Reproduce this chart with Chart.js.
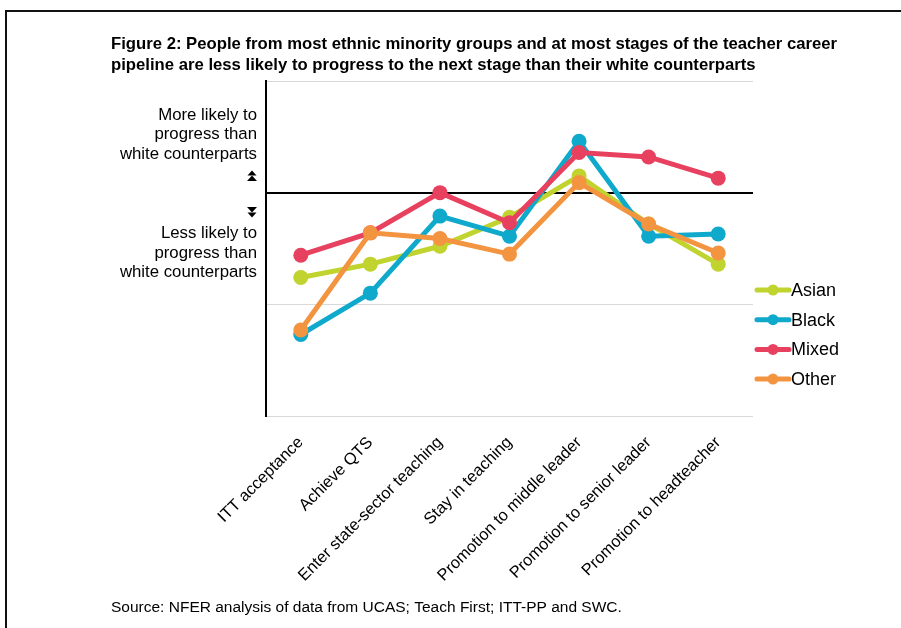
<!DOCTYPE html>
<html>
<head>
<meta charset="utf-8">
<script src="https://cdn.jsdelivr.net/npm/chart.js@4.4.1/dist/chart.umd.min.js"></script>
<style>
html,body{margin:0;padding:0;background:#fff;}
#wrap{position:relative;width:901px;height:628px;}
canvas{display:block;}
</style>
</head>
<body>
<div id="wrap"><canvas id="c" width="901" height="628"></canvas></div>
<script>
const categories = ["ITT acceptance","Achieve QTS","Enter state-sector teaching","Stay in teaching","Promotion to middle leader","Promotion to senior leader","Promotion to headteacher"];
const asian = [-0.76, -0.64, -0.48, -0.22, 0.15, -0.28, -0.64];
const black = [-1.27, -0.90, -0.21, -0.39, 0.46, -0.39, -0.37];
const mixed = [-0.56, -0.36, 0.00, -0.27, 0.36, 0.32, 0.13];
const other = [-1.23, -0.36, -0.41, -0.55, 0.09, -0.28, -0.54];
const seriesNames = ["Asian","Black","Mixed","Other"];
const seriesColors = ["#C0D32F","#0FA9CC","#E8405F","#F39440"];
const titleLines = ["Figure 2: People from most ethnic minority groups and at most stages of the teacher career",
                    "pipeline are less likely to progress to the next stage than their white counterparts"];
const moreLines = ["More likely to","progress than","white counterparts"];
const lessLines = ["Less likely to","progress than","white counterparts"];
const sourceText = "Source: NFER analysis of data from UCAS; Teach First; ITT-PP and SWC.";

const FONT = '"Liberation Sans", Arial, sans-serif';

const decor = {
  id: 'decor',
  beforeDraw(chart) {
    const ctx = chart.ctx;
    ctx.save();
    ctx.fillStyle = '#fff';
    ctx.fillRect(0,0,chart.width,chart.height);
    // frame
    ctx.fillStyle = '#111';
    ctx.fillRect(5, 10, 896, 2);
    ctx.fillRect(5, 10, 2, 618);
    ctx.restore();
  },
  afterDraw(chart) {
    const ctx = chart.ctx;
    const a = chart.chartArea;
    ctx.save();
    ctx.fillStyle = '#000';
    ctx.textBaseline = 'middle';
    // title
    ctx.font = 'bold 16.7px ' + FONT;
    ctx.textAlign = 'left';
    ctx.fillText(titleLines[0], 111, 44);
    ctx.fillText(titleLines[1], 111, 65);
    // source
    ctx.font = '15.5px ' + FONT;
    ctx.fillText(sourceText, 111, 608);
    // y annotations
    ctx.font = '16.8px ' + FONT;
    ctx.textAlign = 'right';
    const rx = a.left - 9;
    [115,134,154].forEach((y,i)=>ctx.fillText(moreLines[i], rx, y));
    [233,253,272].forEach((y,i)=>ctx.fillText(lessLines[i], rx, y));
    // arrows
    const ax = a.left - 14;
    function tri(yApex, yBase, hw) {
      ctx.beginPath();
      ctx.moveTo(ax, yApex); ctx.lineTo(ax+hw, yBase); ctx.lineTo(ax-hw, yBase);
      ctx.closePath(); ctx.fill();
    }
    tri(170.5, 175.5, 4.5); tri(175.5, 181, 5);
    tri(217.5, 212.5, 4.5); tri(212.5, 207, 5);
    // legend
    ctx.textAlign = 'left';
    ctx.font = '18px ' + FONT;
    chart.data.datasets.forEach((ds, i) => {
      const y = 290 + i * 29.7;
      const x0 = a.right + 4, x1 = a.right + 36;
      ctx.strokeStyle = ds.borderColor;
      ctx.lineWidth = 5;
      ctx.lineCap = 'round';
      ctx.beginPath(); ctx.moveTo(x0, y); ctx.lineTo(x1, y); ctx.stroke();
      ctx.fillStyle = ds.borderColor;
      ctx.beginPath(); ctx.arc((x0+x1)/2, y, 5.5, 0, Math.PI*2); ctx.fill();
      ctx.fillStyle = '#000';
      ctx.fillText(ds.label, x1 + 2, y + 1);
    });
    ctx.restore();
  }
};

const seriesData = [asian, black, mixed, other];
const datasets = seriesNames.map((n, i) => ({
  label: n,
  data: seriesData[i],
  borderColor: seriesColors[i],
  backgroundColor: seriesColors[i],
  pointBackgroundColor: seriesColors[i],
  pointBorderWidth: 0,
  pointRadius: 7.5,
  borderWidth: 5,
  tension: 0,
  order: 4 - i
}));

new Chart(document.getElementById('c'), {
  type: 'line',
  data: { labels: categories, datasets },
  options: {
    responsive: false,
    animation: false,
    events: [],
    layout: { padding: { left: 266, right: 148, top: 81, bottom: 0 } },
    plugins: { legend: { display: false }, tooltip: { enabled: false }, title: { display: false } },
    scales: {
      x: {
        offset: true,
        grid: { display: false },
        border: { display: false },
        ticks: {
          color: '#000',
          font: { family: FONT, size: 16.4 },
          minRotation: 45, maxRotation: 45,
          padding: 9,
          autoSkip: false
        },
        afterFit(s) { s.height = 212; }
      },
      y: {
        min: -2, max: 1,
        ticks: { display: false, stepSize: 1 },
        grid: {
          drawTicks: false,
          color: ctx => ctx.tick && ctx.tick.value === 0 ? '#000' : '#d9d9d9',
          lineWidth: ctx => ctx.tick && ctx.tick.value === 0 ? 2 : 1
        },
        border: { display: true, color: '#000', width: 2 },
        afterFit(s) { s.width = 0; }
      }
    }
  },
  plugins: [decor]
});
</script>
</body>
</html>
